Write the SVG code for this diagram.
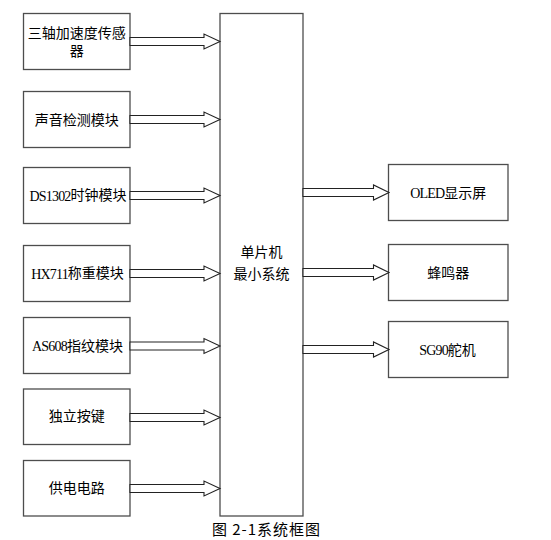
<svg xmlns="http://www.w3.org/2000/svg" width="551" height="540" viewBox="0 0 551 540">
<style>
.box{fill:#fff;stroke:#4d4d4d;stroke-width:1.3}
.arr{fill:#fff;stroke:#222;stroke-width:1.1;stroke-linejoin:miter}
.t{font-family:"Liberation Serif","Noto Sans CJK SC",sans-serif;font-size:14px;fill:#000;text-anchor:middle;dominant-baseline:central}
.lat{letter-spacing:-0.8px}
.cap{font-family:"Noto Sans CJK SC",sans-serif;font-size:15px;fill:#000;text-anchor:middle;dominant-baseline:central}
</style>
<defs>
<path id="la" d="M0,-4 L74,-4 L74,-7.5 L90,0 L74,7.5 L74,4 L0,4 Z"/>
<path id="ra" d="M0,-4 L70.5,-4 L70.5,-7.5 L86,0 L70.5,7.5 L70.5,4 L0,4 Z"/>
</defs>
<rect width="551" height="540" fill="#fff"/>
<g id="mcu"><rect class="box" x="220" y="13.5" width="83" height="502.5"/><text class="t" x="261.5" y="252.5">单片机</text><text class="t" x="261.5" y="274">最小系统</text></g>
<g id="n1"><rect class="box" x="23.5" y="13.5" width="106.5" height="56"/><text class="t" x="76.8" y="33.5">三轴加速度传感</text><text class="t" x="76.8" y="51.5">器</text></g>
<g id="n2"><rect class="box" x="23.5" y="91.5" width="106.5" height="56"/><text class="t" x="76.8" y="120">声音检测模块</text></g>
<g id="n3"><rect class="box" x="23.5" y="167.5" width="106.5" height="56"/><text class="t" x="78" y="195.5"><tspan class="lat">DS1302</tspan>时钟模块</text></g>
<g id="n4"><rect class="box" x="23.5" y="245.5" width="106.5" height="56"/><text class="t" x="77.5" y="273.5"><tspan class="lat">HX711</tspan>称重模块</text></g>
<g id="n5"><rect class="box" x="23.5" y="317.5" width="106.5" height="56"/><text class="t" x="77.5" y="346"><tspan class="lat">AS608</tspan>指纹模块</text></g>
<g id="n6"><rect class="box" x="23.5" y="389" width="106.5" height="55.5"/><text class="t" x="76.8" y="416.5">独立按键</text></g>
<g id="n7"><rect class="box" x="23.5" y="460.5" width="106.5" height="55.5"/><text class="t" x="76.8" y="488.5">供电电路</text></g>
<g id="o1"><rect class="box" x="388.5" y="164.5" width="119.5" height="56"/><text class="t" x="448.3" y="193"><tspan class="lat">OLED</tspan>显示屏</text></g>
<g id="o2"><rect class="box" x="388.5" y="244.5" width="119.5" height="56"/><text class="t" x="448.3" y="273">蜂鸣器</text></g>
<g id="o3"><rect class="box" x="388.5" y="321.5" width="119.5" height="56"/><text class="t" x="447.5" y="350"><tspan class="lat">SG90</tspan>舵机</text></g>
<g id="connectors">
<use href="#la" class="arr" transform="translate(130,41.5)"/>
<use href="#la" class="arr" transform="translate(130,119.5)"/>
<use href="#la" class="arr" transform="translate(130,195.5)"/>
<use href="#la" class="arr" transform="translate(130,273.5)"/>
<use href="#la" class="arr" transform="translate(130,346)"/>
<use href="#la" class="arr" transform="translate(130,417.5)"/>
<use href="#la" class="arr" transform="translate(130,488.5)"/>
<use href="#ra" class="arr" transform="translate(303,192.5)"/>
<use href="#ra" class="arr" transform="translate(303,272.5)"/>
<use href="#ra" class="arr" transform="translate(303,349.5)"/>
</g>
<text class="cap" x="266" y="528.5" textLength="108" lengthAdjust="spacing">图 2-1系统框图</text>
</svg>
